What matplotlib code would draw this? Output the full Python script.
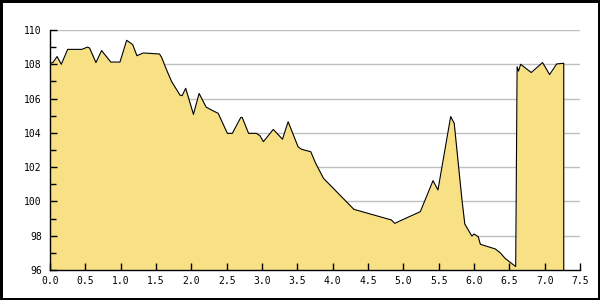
import numpy as np
from matplotlib import pyplot as plt
from matplotlib.ticker import MultipleLocator

# values
xs = [0.00, 0.04, 0.10, 0.16, 0.25, 0.45, 0.53, 0.56, 0.65, 0.73, 0.86, 0.99,
      1.085, 1.17, 1.23, 1.32, 1.40, 1.55, 1.58, 1.65, 1.72, 1.84, 1.87, 1.92,
      2.03, 2.11, 2.21, 2.31, 2.38, 2.51, 2.58, 2.70, 2.72, 2.81, 2.92, 2.97,
      3.02, 3.16, 3.29, 3.37, 3.51, 3.56, 3.69, 3.76, 3.87, 4.30, 4.53, 4.83,
      4.88, 4.95, 5.24, 5.42, 5.49, 5.67, 5.72, 5.83, 5.87, 5.97, 6.00, 6.06,
      6.09, 6.30, 6.37, 6.44, 6.59, 6.60, 6.61, 6.63, 6.66, 6.81, 6.97, 7.07,
      7.17, 7.27]
ys = [108.06, 108.1, 108.45, 108.0, 108.87, 108.87, 109.0, 108.95, 108.1, 108.8,
      108.13, 108.13, 109.4, 109.15, 108.5, 108.66, 108.64, 108.6, 108.4, 107.67,
      107.0, 106.2, 106.17, 106.6, 105.08, 106.3, 105.5, 105.28, 105.14, 103.97,
      103.97, 104.9, 104.9, 103.97, 103.97, 103.84, 103.49, 104.2, 103.63, 104.65,
      103.19, 103.04, 102.9, 102.22, 101.35, 99.54, 99.27, 98.92, 98.72, 98.86,
      99.4, 101.21, 100.67, 104.95, 104.56, 100.08, 98.68, 97.98, 98.1, 97.94,
      97.5, 97.23, 97.01, 96.68, 96.2, 102.0, 107.86, 107.6, 108.0, 107.52,
      108.1, 107.4, 108.02, 108.06]
grid_levels = [98, 100, 102, 104, 106, 108, 110]

fill_color = '#f7e184'

fig = plt.figure(figsize=(6, 3), dpi=100)
fig.patch.set_facecolor('white')
fig.patch.set_edgecolor('black')
fig.patch.set_linewidth(2.2)
ax = fig.add_axes([50 / 600, 30 / 300, 530 / 600, 240 / 300])

# grid behind the fill, ticks above it
ax.hlines(grid_levels, 0, 7.5, color='#c0c0c0', linewidth=1, zorder=0.5)
ax.fill_between(xs, ys, 96, color=fill_color, linewidth=0, zorder=1)
ax.plot(xs + [xs[-1]], ys + [96], color='black', linewidth=0.8, zorder=2)

ax.set_xlim(0, 7.5)
ax.set_ylim(96, 110)
ax.xaxis.set_major_locator(MultipleLocator(0.5))
ax.yaxis.set_major_locator(MultipleLocator(2))
ax.yaxis.set_minor_locator(MultipleLocator(1))
ax.xaxis.set_major_formatter(plt.FormatStrFormatter('%.1f'))

ax.set_axisbelow(False)

for side in ['top', 'right']:
    ax.spines[side].set_visible(False)
for side in ['left', 'bottom']:
    ax.spines[side].set_linewidth(1)
    ax.spines[side].set_color('black')

ax.tick_params(axis='both', which='both', direction='in', width=1, color='black',
               labelsize=7)
ax.tick_params(axis='y', which='major', length=5, pad=6)
ax.tick_params(axis='y', which='minor', length=4)
ax.tick_params(axis='x', which='major', length=5, pad=4)
for lbl in ax.get_xticklabels() + ax.get_yticklabels():
    lbl.set_family('DejaVu Sans Mono')

fig.savefig('out.png', dpi=100)
